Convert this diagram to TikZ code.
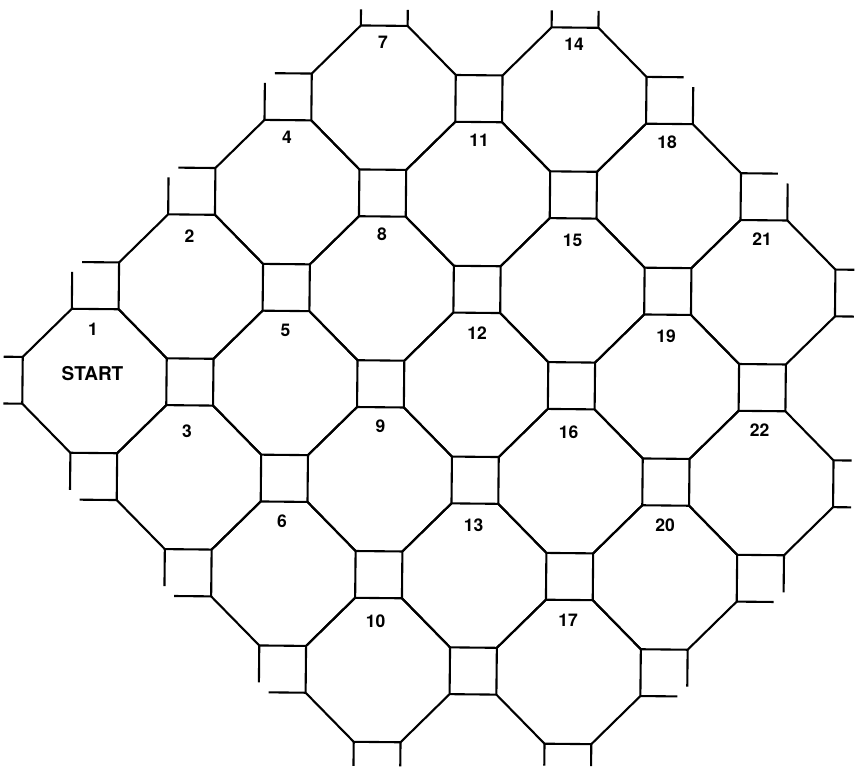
\documentclass[tikz,border=0pt]{standalone}
\usepackage{fontspec}
\setmainfont{TeX Gyre Heros}
\begin{document}
\begin{tikzpicture}[x=1pt,y=-1pt,
  tile/.style={line width=2.1pt,line join=miter,line cap=butt},
  lbl/.style={inner sep=0pt,font=\fontsize{17.5}{20}\selectfont\bfseries},
  startlbl/.style={inner sep=0pt,font=\fontsize{19}{22}\selectfont\bfseries}]
\useasboundingbox (0,0) rectangle (858,769);
\def\myD{95.4}\def\myW{72}\def\myH{23.4}\def\myL{37}
\begin{scope}[rotate around={-0.57:(94.5,381)}]
% octagons
\foreach \n/\a/\b in {1/0/0,2/1/0,3/0/1,4/2/0,5/1/1,6/0/2,7/3/0,8/2/1,9/1/2,10/0/3,11/3/1,12/2/2,13/1/3,14/4/1,15/3/2,16/2/3,17/1/4,18/4/2,19/3/3,20/2/4,21/4/3,22/3/4}{
  \pgfmathsetmacro\cx{94.5+\myD*(\a+\b)}
  \pgfmathsetmacro\cy{381+\myD*(\b-\a)}
  \draw[tile] ({\cx+\myW},{\cy+\myH}) -- ({\cx+\myH},{\cy+\myW}) -- ({\cx-\myH},{\cy+\myW}) -- ({\cx-\myW},{\cy+\myH}) -- ({\cx-\myW},{\cy-\myH}) -- ({\cx-\myH},{\cy-\myW}) -- ({\cx+\myH},{\cy-\myW}) -- ({\cx+\myW},{\cy-\myH}) -- cycle;
}
% two-octagon squares, missing top-left corner
\foreach \p/\q in {0.5/-0.5,1.5/-0.5,2.5/-0.5}{
  \pgfmathsetmacro\sx{94.5+\myD*(\p+\q)}
  \pgfmathsetmacro\sy{381+\myD*(\q-\p)}
  \draw[tile] ({\sx+\myH},{\sy-\myH}) -- ({\sx+\myH-\myL},{\sy-\myH});
  \draw[tile] ({\sx-\myH},{\sy+\myH}) -- ({\sx-\myH},{\sy+\myH-\myL});
}
% missing top-right corner
\foreach \p/\q in {4.5/1.5,4.5/2.5}{
  \pgfmathsetmacro\sx{94.5+\myD*(\p+\q)}
  \pgfmathsetmacro\sy{381+\myD*(\q-\p)}
  \draw[tile] ({\sx-\myH},{\sy-\myH}) -- ({\sx-\myH+\myL},{\sy-\myH});
  \draw[tile] ({\sx+\myH},{\sy+\myH}) -- ({\sx+\myH},{\sy+\myH-\myL});
}
% missing bottom-right corner
\foreach \p/\q in {2.5/4.5,1.5/4.5}{
  \pgfmathsetmacro\sx{94.5+\myD*(\p+\q)}
  \pgfmathsetmacro\sy{381+\myD*(\q-\p)}
  \draw[tile] ({\sx+\myH},{\sy-\myH}) -- ({\sx+\myH},{\sy-\myH+\myL});
  \draw[tile] ({\sx-\myH},{\sy+\myH}) -- ({\sx-\myH+\myL},{\sy+\myH});
}
% missing bottom-left corner
\foreach \p/\q in {-0.5/2.5,-0.5/1.5,-0.5/0.5}{
  \pgfmathsetmacro\sx{94.5+\myD*(\p+\q)}
  \pgfmathsetmacro\sy{381+\myD*(\q-\p)}
  \draw[tile] ({\sx-\myH},{\sy-\myH}) -- ({\sx-\myH},{\sy-\myH+\myL});
  \draw[tile] ({\sx+\myH},{\sy+\myH}) -- ({\sx+\myH-\myL},{\sy+\myH});
}
% single-octagon squares: stubs to the left
\foreach \p/\q/\s in {-0.5/-0.5/19}{
  \pgfmathsetmacro\sx{94.5+\myD*(\p+\q)}
  \pgfmathsetmacro\sy{381+\myD*(\q-\p)}
  \draw[tile] ({\sx+\myH},{\sy-\myH}) -- ({\sx+\myH-\s},{\sy-\myH});
  \draw[tile] ({\sx+\myH},{\sy+\myH}) -- ({\sx+\myH-\s},{\sy+\myH});
}
% stubs upwards
\foreach \p/\q/\s in {3.5/-0.5/16,4.5/0.5/17}{
  \pgfmathsetmacro\sx{94.5+\myD*(\p+\q)}
  \pgfmathsetmacro\sy{381+\myD*(\q-\p)}
  \draw[tile] ({\sx-\myH},{\sy+\myH}) -- ({\sx-\myH},{\sy+\myH-\s});
  \draw[tile] ({\sx+\myH},{\sy+\myH}) -- ({\sx+\myH},{\sy+\myH-\s});
}
% stubs to the right
\foreach \p/\q/\s in {4.5/3.5/19,3.5/4.5/18}{
  \pgfmathsetmacro\sx{94.5+\myD*(\p+\q)}
  \pgfmathsetmacro\sy{381+\myD*(\q-\p)}
  \draw[tile] ({\sx-\myH},{\sy-\myH}) -- ({\sx-\myH+\s},{\sy-\myH});
  \draw[tile] ({\sx-\myH},{\sy+\myH}) -- ({\sx-\myH+\s},{\sy+\myH});
}
% stubs downwards
\foreach \p/\q/\s in {0.5/4.5/22,-0.5/3.5/24}{
  \pgfmathsetmacro\sx{94.5+\myD*(\p+\q)}
  \pgfmathsetmacro\sy{381+\myD*(\q-\p)}
  \draw[tile] ({\sx-\myH},{\sy-\myH}) -- ({\sx-\myH},{\sy-\myH+\s});
  \draw[tile] ({\sx+\myH},{\sy-\myH}) -- ({\sx+\myH},{\sy-\myH+\s});
}
% closing sides of three-octagon squares
\pgfmathsetmacro\sx{94.5+\myD*4}\pgfmathsetmacro\sy{381-\myD*3}
\draw[tile] ({\sx-\myH},{\sy-\myH}) -- ({\sx+\myH},{\sy-\myH});
\pgfmathsetmacro\sx{94.5+\myD*7}\pgfmathsetmacro\sy{381}
\draw[tile] ({\sx+\myH},{\sy-\myH}) -- ({\sx+\myH},{\sy+\myH});
\pgfmathsetmacro\sx{94.5+\myD*4}\pgfmathsetmacro\sy{381+\myD*3}
\draw[tile] ({\sx-\myH},{\sy+\myH}) -- ({\sx+\myH},{\sy+\myH});
\end{scope}
% labels
\node[startlbl] (start) at (92.5,374) {START};
\node[lbl] (l1) at (93,329) {1};
\node[lbl] (l2) at (189.5,236) {2};
\node[lbl] (l3) at (187,431) {3};
\node[lbl] (l4) at (287,137) {4};
\node[lbl] (l5) at (285.5,330) {5};
\node[lbl] (l6) at (282,521.5) {6};
\node[lbl] (l7) at (383,42) {7};
\node[lbl] (l8) at (382,234.5) {8};
\node[lbl] (l9) at (380.5,426.5) {9};
\node[lbl] (l10) at (375.5,621.5) {10};
\node[lbl] (l11) at (479,140) {11};
\node[lbl] (l12) at (477,333.5) {12};
\node[lbl] (l13) at (473.5,525) {13};
\node[lbl] (l14) at (574,44.5) {14};
\node[lbl] (l15) at (572.5,240) {15};
\node[lbl] (l16) at (568.5,432) {16};
\node[lbl] (l17) at (568,620) {17};
\node[lbl] (l18) at (667,142.5) {18};
\node[lbl] (l19) at (666,336) {19};
\node[lbl] (l20) at (665,525) {20};
\node[lbl] (l21) at (762,239) {21};
\node[lbl] (l22) at (759.5,430) {22};
\end{tikzpicture}
\end{document}
